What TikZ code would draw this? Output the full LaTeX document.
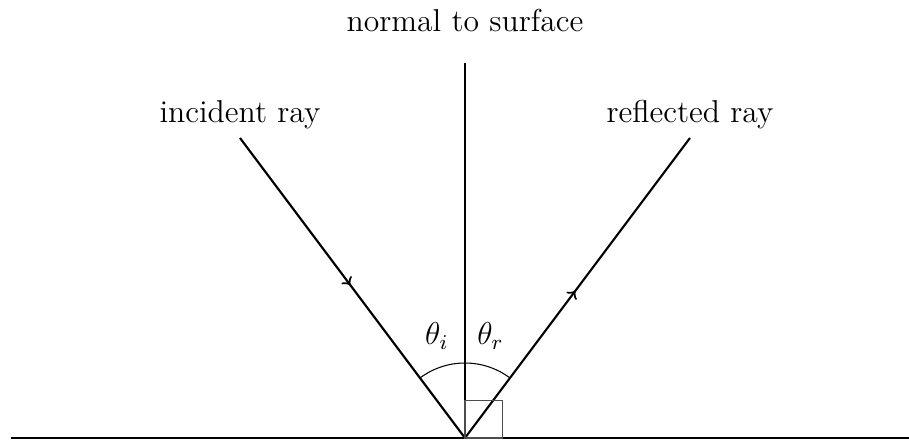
\documentclass[tikz,border=0pt]{standalone}
\usepackage{amsmath,amssymb}
\usetikzlibrary{decorations.markings}

\begin{document}
\begin{tikzpicture}[x=0.5cm, y=0.5cm, every node/.style={font=\large},
	ray/.style={thick, postaction={decorate}, decoration={markings, mark=at position 0.49 with {\arrow{>}}}}]
	\useasboundingbox (-12.4,-0.05) rectangle (11.84,11.68);
	\coordinate (O) at (0,0);
	\coordinate (L) at (-12.1,0);
	\coordinate (R) at (11.84,0);
	\coordinate (N) at (0,10);
	\coordinate (I) at (-6,8);
	\coordinate (F) at (6,8);
	\draw (L) -- (R);
	\draw[thick] (O) -- (N) node[above=8pt] (normal) {normal to surface};
	\draw[ray] (I) -- (O);
	\draw[ray] (O) -- (F);
	\node[above=0pt] (incident) at (I) {incident ray};
	\node[above=0pt] (reflected) at (F) {reflected ray};
	\draw ([shift={(126.87:2)}]O) arc[start angle=126.87, end angle=53.13, radius=2];
	\draw[black!70] (O) rectangle +(1,1);
	\node (thi) at (-0.75,2.72) {$\theta_i$};
	\node (thr) at (0.68,2.72) {$\theta_r$};
\end{tikzpicture}
\end{document}
